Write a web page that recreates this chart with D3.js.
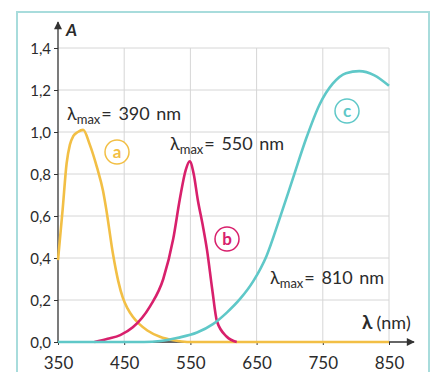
<!DOCTYPE html>
<html>
<head>
    <meta charset="utf-8">
    <script src="https://cdn.jsdelivr.net/npm/d3@7"></script>
    <title>Absorption spectra</title>
    <style>
      body { margin: 0; background: #fff; }
      text { font-family: Lato, "Open Sans", sans-serif; fill: #2b2b2b; }
    </style>
</head>
<body>
<script>
    mywidth = 432;
    height = 372;
    margin = ({top: 48, right: 43, bottom: 30, left: 58});

    // wavelength ticks (nm) and absorbance ticks
    xTicks = [350, 450, 550, 650, 750, 850];
    yTicks = [0, 0.2, 0.4, 0.6, 0.8, 1.0, 1.2, 1.4];

    // curve a, lambda max 390 nm
    wlA  = [350, 357, 363, 368, 373, 380, 388, 398, 409, 418, 423, 433, 441, 448, 455, 463, 473, 485, 504, 525, 545, 850];
    absA = [0.39, 0.63, 0.85, 0.94, 0.98, 1.0, 1.01, 0.94, 0.83, 0.72, 0.63, 0.42, 0.29, 0.21, 0.16, 0.12, 0.085, 0.055, 0.025, 0.008, 0, 0];

    // curve b, lambda max 550 nm
    wlB  = [405, 425, 444, 463, 489, 509, 524, 534, 543, 549, 555, 561, 569, 575, 583, 590, 605, 620];
    absB = [0, 0.015, 0.033, 0.07, 0.17, 0.30, 0.49, 0.68, 0.82, 0.86, 0.80, 0.68, 0.55, 0.44, 0.25, 0.10, 0.025, 0];

    // curve c, lambda max 810 nm
    wlC  = [350, 480, 505, 531, 560, 584, 605, 625, 645, 665, 685, 705, 725, 745, 765, 785, 805, 828, 850];
    absC = [0, 0, 0.005, 0.02, 0.045, 0.085, 0.14, 0.205, 0.29, 0.41, 0.59, 0.78, 0.97, 1.13, 1.23, 1.28, 1.29, 1.27, 1.22];

    colA = "#f2bf45";
    colB = "#d8206c";
    colC = "#5fc8c8";

    const svg = d3.select("body").append("svg")
      .attr("width", mywidth)
      .attr("height", height)
      .attr("viewBox", [0, 0, mywidth, height]);

    x = d3.scaleLinear()
      .domain([350, 850])
      .range([margin.left, 389]);

    y = d3.scaleLinear()
      .domain([0, 1.4])
      .range([342, margin.top]);

    // frame
    svg.append("rect")
      .attr("x", 17).attr("y", 12)
      .attr("width", 412).attr("height", 380)
      .style("fill", "none")
      .style("stroke", "#a8dcdc")
      .style("stroke-width", 2);

    // grid
    const grid = svg.append("g").style("stroke", "#d6d6d6").style("stroke-width", 1);
    grid.selectAll(".vg")
      .data(xTicks.slice(1))
      .enter().append("line")
      .attr("x1", d => x(d)).attr("x2", d => x(d))
      .attr("y1", y(0)).attr("y2", y(1.4));
    grid.selectAll(".hg")
      .data(yTicks.slice(1))
      .enter().append("line")
      .attr("x1", x(350)).attr("x2", x(850))
      .attr("y1", d => y(d)).attr("y2", d => y(d));

    // axes
    fmt = d => d3.format(".1f")(d).replace(".", ",");

    svg.append("g")
      .attr("transform", `translate(${x(350)},0)`)
      .call(d3.axisLeft(y).tickValues(yTicks).tickFormat(fmt).tickSize(4).tickPadding(3))
      .call(g => g.select(".domain").remove())
      .call(g => g.selectAll("line").style("stroke", "#333"))
      .call(g => g.selectAll("text").style("font-size", "15px").style("font-family", "Lato").attr("dy", "0.36em").style("fill", "#2b2b2b"));

    svg.append("g")
      .attr("transform", `translate(0,${y(0)})`)
      .call(d3.axisBottom(x).tickValues(xTicks).tickFormat(d3.format("d")).tickSize(3).tickPadding(12))
      .call(g => g.select(".domain").remove())
      .call(g => g.selectAll("line").style("stroke", "#333"))
      .call(g => g.selectAll("text").style("font-size", "17px").style("font-family", "Lato").style("fill", "#2b2b2b"));

    svg.append("defs").append("marker")
      .attr("id", "arr")
      .attr("viewBox", "0 0 10 10")
      .attr("refX", 9).attr("refY", 5)
      .attr("markerWidth", 10).attr("markerHeight", 8)
      .attr("markerUnits", "userSpaceOnUse")
      .attr("orient", "auto")
      .append("path").attr("d", "M0,0L10,5L0,10z").style("fill", "#333");

    svg.append("line")
      .attr("x1", x(350)).attr("x2", x(350))
      .attr("y1", y(0)).attr("y2", 22)
      .style("stroke", "#333").style("stroke-width", 1.3)
      .attr("marker-end", "url(#arr)");
    svg.append("line")
      .attr("x1", x(350)).attr("x2", 414)
      .attr("y1", y(0)).attr("y2", y(0))
      .style("stroke", "#333").style("stroke-width", 1.3)
      .attr("marker-end", "url(#arr)");

    svg.append("text")
      .attr("x", 66).attr("y", 36)
      .text("A")
      .style("font-size", "17px").style("font-weight", "bold").style("font-style", "italic");

    const xl = svg.append("text").attr("x", 362).attr("y", 329).style("font-size", "18px");
    xl.append("tspan").text("λ").style("font-weight", "bold").style("font-size", "19px");
    xl.append("tspan").text("(nm)").attr("dx", 4);

    // curves
    line = d3.line()
      .x(d => x(d[0]))
      .y(d => y(d[1]))
      .curve(d3.curveMonotoneX);

    series = [
      {wl: wlA, ab: absA, col: colA},
      {wl: wlB, ab: absB, col: colB},
      {wl: wlC, ab: absC, col: colC}
    ];

    svg.append("g").selectAll("path")
      .data(series)
      .enter().append("path")
      .attr("d", s => line(s.wl.map((w, i) => [w, s.ab[i]])))
      .style("fill", "none")
      .style("stroke", s => s.col)
      .style("stroke-width", 2.6)
      .style("stroke-linejoin", "round");

    // lambda max labels
    lab = [
      {t: "390", x: 67, y: 120},
      {t: "550", x: 170, y: 150},
      {t: "810", x: 270, y: 284}
    ];
    lab.forEach(function(d) {
      const tx = svg.append("text").attr("x", d.x).attr("y", d.y)
        .style("font-size", "18px").style("word-spacing", "2px");
      tx.append("tspan").text("λ");
      tx.append("tspan").text("max").attr("dy", 4).style("font-size", "13px");
      tx.append("tspan").text("= " + d.t + " nm").attr("dy", -4).attr("dx", 1);
    });

    // circled letters
    marks = [
      {t: "a", x: 117, y: 152, col: colA},
      {t: "b", x: 227, y: 239, col: colB},
      {t: "c", x: 347, y: 111, col: colC}
    ];
    const mg = svg.append("g").selectAll("g")
      .data(marks)
      .enter().append("g")
      .attr("transform", d => `translate(${d.x},${d.y})`);
    mg.append("circle")
      .attr("r", 12)
      .style("fill", "#fff")
      .style("stroke", d => d.col)
      .style("stroke-width", 1.5);
    mg.append("text")
      .text(d => d.t)
      .attr("text-anchor", "middle")
      .attr("dy", "0.35em")
      .style("font-size", "17px")
      .style("font-weight", "bold")
      .style("fill", d => d.col);
</script>
</body>
</html>
